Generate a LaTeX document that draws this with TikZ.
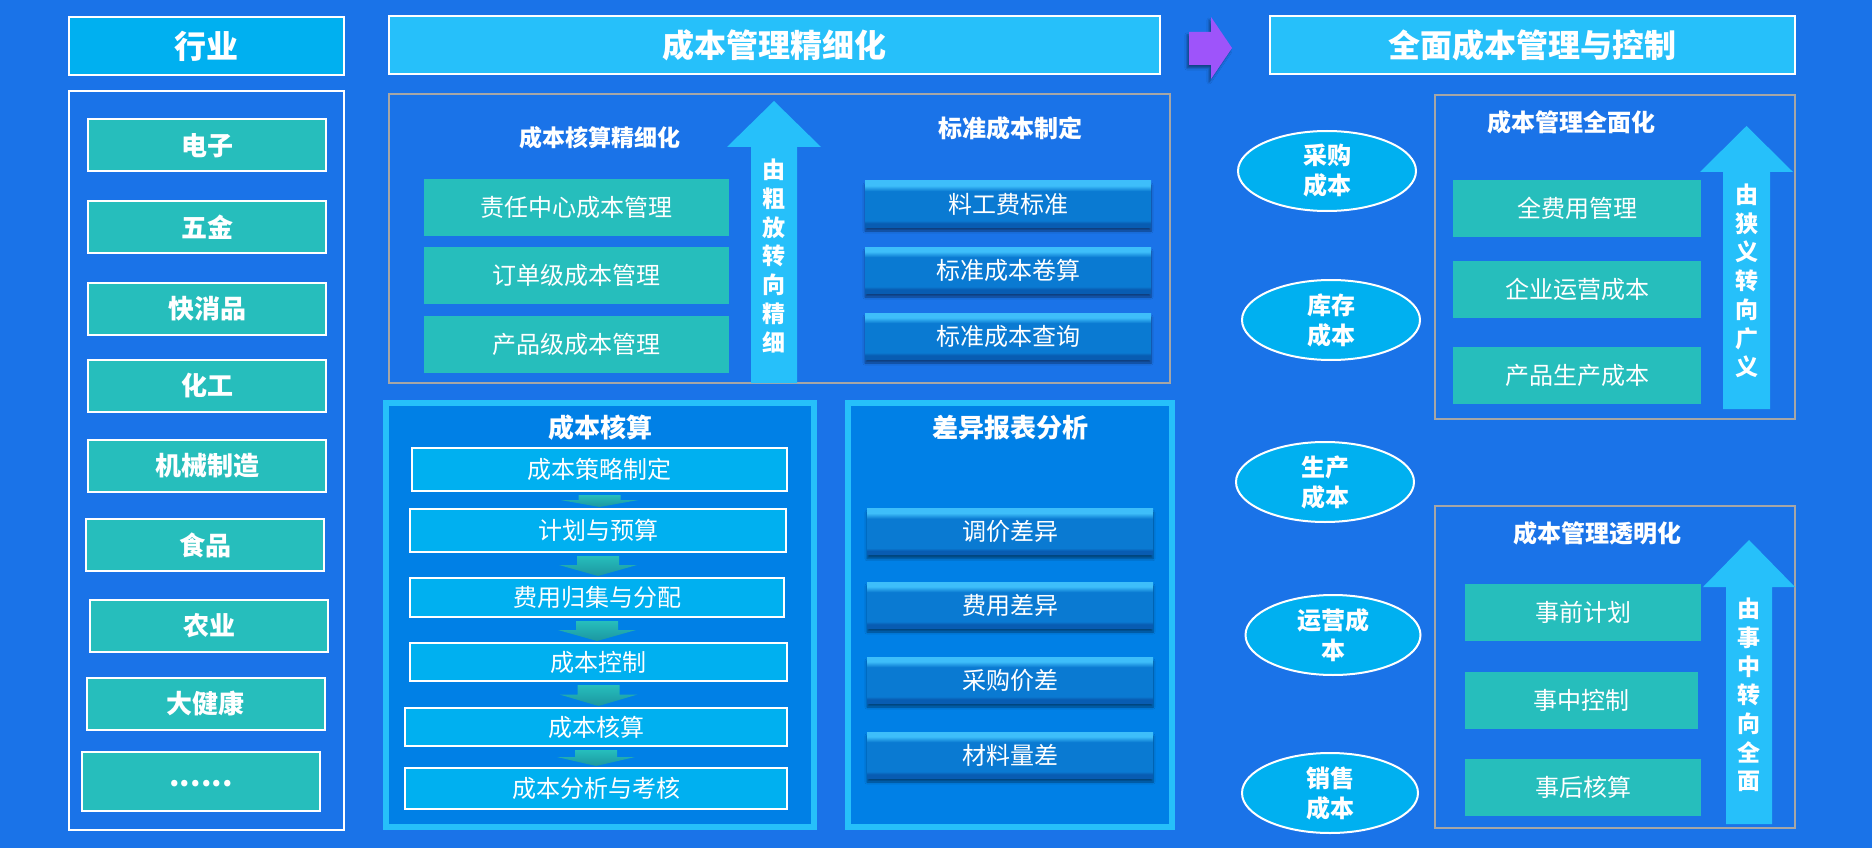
\documentclass[tikz,border=0pt]{standalone}
\usepackage{fontspec}
\setmainfont{Noto Sans CJK SC}
\usetikzlibrary{shapes.geometric,shadows,shadows.blur,calc}
\definecolor{bgc}{RGB}{26,115,232}
\definecolor{hdrc}{RGB}{38,192,250}
\definecolor{blue2}{RGB}{0,176,240}
\definecolor{tealc}{RGB}{38,190,188}
\definecolor{tealdk}{RGB}{28,150,160}
\definecolor{panelc}{RGB}{0,128,230}
\definecolor{grayb}{RGB}{166,166,166}
\definecolor{purp}{RGB}{158,84,250}
\definecolor{btntop}{RGB}{62,190,250}
\definecolor{btnmid}{RGB}{10,122,210}
\definecolor{btnbot}{RGB}{8,92,178}
\pgfdeclareverticalshading{btnshade}{100bp}{color(0bp)=(btnbot); color(25bp)=(btnbot); color(29bp)=(btnbot);
  color(32bp)=(btnmid); color(64bp)=(btnmid); color(70bp)=(btntop); color(75bp)=(btntop); color(100bp)=(btntop)}
\tikzset{
  box/.style={draw=white, line width=2pt, text=white, inner sep=0pt, align=center},
  hdr/.style={box, fill=hdrc, minimum height=58pt, font=\fontsize{32}{36}\selectfont\bfseries},
  ind/.style={box, fill=tealc, minimum width=238pt, minimum height=52pt, font=\fontsize{26}{30}\selectfont\bfseries},
  tealbox/.style={fill=tealc, text=white, inner sep=0pt, minimum height=57pt, font=\fontsize{24}{28}\selectfont},
  panel/.style={draw=grayb, line width=2.5pt},
  darkpanel/.style={draw=hdrc, line width=6pt, fill=panelc},
  ttl/.style={text=white, inner sep=0pt, font=\fontsize{24}{28}\selectfont\bfseries},
  bigttl/.style={text=white, inner sep=0pt, font=\fontsize{26}{30}\selectfont\bfseries},
  stepbox/.style={box, fill=blue2, minimum width=376pt, font=\fontsize{24}{28}\selectfont},
  btn/.style={shading=btnshade, text=white, inner sep=0pt,
     minimum width=286pt, minimum height=46pt, font=\fontsize{24}{28}\selectfont,
     blur shadow={shadow blur steps=6, shadow xshift=0pt, shadow yshift=-4pt, shadow opacity=45}},
  oval/.style={ellipse, draw=white, line width=2pt, fill=blue2, text=white, inner sep=0pt, align=center,
     minimum width=178pt, minimum height=80pt, font=\fontsize{24}{30}\selectfont\bfseries},
  uparrow/.style={fill=hdrc},
  vtext/.style={text=white, inner sep=0pt, align=center, font=\fontsize{23}{28.7}\selectfont\bfseries},
}
\newcommand\steparrow[2]{%
  \shade[top color=tealc, bottom color=tealdk] let \p1=(#1.south), \p2=(#2.north) in
    (\x1-21pt,\y1-3pt) -- (\x1+21pt,\y1-3pt) -- (\x1+21pt,{0.5*(\y1+\y2)}) --
    (\x1+39pt,{0.5*(\y1+\y2)}) -- (\x1,\y2+1pt) -- (\x1-39pt,{0.5*(\y1+\y2)}) --
    (\x1-21pt,{0.5*(\y1+\y2)}) -- cycle;}
\begin{document}
\begin{tikzpicture}[x=1pt,y=-1pt]
\fill[bgc] (0,0) rectangle (1872,848);
\useasboundingbox (0,0) rectangle (1872,848);

% headers
\node[hdr, fill=blue2, minimum width=275pt] (h1) at (206.5,46) {行业};
\node[hdr, minimum width=771pt] (h2) at (774.5,45) {成本管理精细化};
\node[hdr, minimum width=525pt] (h3) at (1532.5,45) {全面成本管理与控制};

% purple arrow
\fill[purp, blur shadow={shadow blur steps=6, shadow xshift=-2pt, shadow yshift=-3pt, shadow opacity=40}]
  (1189,32) -- (1211,32) -- (1211,17) -- (1232,48) -- (1211,79) -- (1211,65) -- (1189,65) -- cycle;

% industry column
\node[box, fill=none, minimum width=275pt, minimum height=739pt] (indbox) at (206.5,460.5) {};
\node[ind] (i1) at (207,145.5) {电子};
\node[ind] (i2) at (207,227) {五金};
\node[ind] (i3) at (207,309) {快消品};
\node[ind] (i4) at (207,385.5) {化工};
\node[ind] (i5) at (207,465.5) {机械制造};
\node[ind] (i6) at (205,545) {食品};
\node[ind] (i7) at (209,626) {农业};
\node[ind] (i8) at (205.5,704) {大健康};
\node[ind, minimum height=59pt] (i9) at (201,781.5) {\raisebox{-11pt}{\fontsize{30}{30}\selectfont ......}};

% top middle panel
\node[panel, minimum width=781pt, minimum height=289pt] (p1) at (779.5,238.5) {};
\node[ttl, font=\fontsize{23}{28}\selectfont\bfseries] (t1) at (600,138) {成本核算精细化};
\node[tealbox, minimum width=305pt] (a1) at (576.5,207.5) {责任中心成本管理};
\node[tealbox, minimum width=305pt] (a2) at (576.5,275.5) {订单级成本管理};
\node[tealbox, minimum width=305pt] (a3) at (576.5,344.5) {产品级成本管理};
\fill[uparrow] (751,383) -- (751,147) -- (727,147) -- (774,101) -- (821,147) -- (797,147) -- (797,383) -- cycle;
\node[vtext] (v1) at (774,256) {由\\粗\\放\\转\\向\\精\\细};
\node[ttl] (t2) at (1010,128) {标准成本制定};
\node[btn] (b1) at (1008,204) {料工费标准};
\node[btn] (b2) at (1008,270) {标准成本卷算};
\node[btn] (b3) at (1008,336) {标准成本查询};

% lower left panel
\node[darkpanel, minimum width=428pt, minimum height=424pt] (p2) at (600,615) {};
\node[bigttl] (t3) at (600,428) {成本核算};
\node[stepbox, minimum width=375pt, minimum height=43pt] (s1) at (599.5,469.5) {成本策略制定};
\node[stepbox, minimum width=376pt, minimum height=43pt] (s2) at (598,530.5) {计划与预算};
\node[stepbox, minimum width=374pt, minimum height=39pt] (s3) at (597,597.5) {费用归集与分配};
\node[stepbox, minimum width=377pt, minimum height=38pt] (s4) at (598.5,662) {成本控制};
\node[stepbox, minimum width=382pt, minimum height=38pt] (s5) at (596,727) {成本核算};
\node[stepbox, minimum width=382pt, minimum height=41pt] (s6) at (596,788.5) {成本分析与考核};
\steparrow{s1}{s2}
\steparrow{s2}{s3}
\steparrow{s3}{s4}
\steparrow{s4}{s5}
\steparrow{s5}{s6}

% lower right panel
\node[darkpanel, minimum width=324pt, minimum height=424pt] (p3) at (1010,615) {};
\node[bigttl] (t4) at (1010,428) {差异报表分析};
\node[btn] (c1) at (1010,531.5) {调价差异};
\node[btn] (c2) at (1010,605) {费用差异};
\node[btn] (c3) at (1010,680) {采购价差};
\node[btn] (c4) at (1010,755) {材料量差};

% ellipses
\node[oval] (e1) at (1327,171) {采购\\成本};
\node[oval] (e2) at (1331,320) {库存\\成本};
\node[oval] (e3) at (1325,482) {生产\\成本};
\node[oval, minimum width=175pt] (e4) at (1333,635) {运营成\\本};
\node[oval, minimum width=176pt] (e5) at (1330,793) {销售\\成本};

% right upper panel
\node[panel, minimum width=360pt, minimum height=324pt] (p4) at (1615,257) {};
\node[ttl] (t5) at (1571,122) {成本管理全面化};
\node[tealbox, minimum width=248pt] (r1) at (1577,208.5) {全费用管理};
\node[tealbox, minimum width=248pt] (r2) at (1577,289.5) {企业运营成本};
\node[tealbox, minimum width=248pt] (r3) at (1577,375) {产品生产成本};
\fill[uparrow] (1723,409) -- (1723,172) -- (1700,172) -- (1746.5,126) -- (1793,172) -- (1770,172) -- (1770,409) -- cycle;
\node[vtext] (v2) at (1746.5,281) {由\\狭\\义\\转\\向\\广\\义};

% right lower panel
\node[panel, minimum width=360pt, minimum height=322pt] (p5) at (1615,667) {};
\node[ttl] (t6) at (1597,533) {成本管理透明化};
\node[tealbox, minimum width=236pt] (q1) at (1583,612.5) {事前计划};
\node[tealbox, minimum width=233pt] (q2) at (1581.5,700) {事中控制};
\node[tealbox, minimum width=236pt] (q3) at (1583,787.5) {事后核算};
\fill[uparrow] (1726,824) -- (1726,587) -- (1703,587) -- (1749,540) -- (1795,587) -- (1772,587) -- (1772,824) -- cycle;
\node[vtext] (v3) at (1749,695) {由\\事\\中\\转\\向\\全\\面};
\end{tikzpicture}
\end{document}
